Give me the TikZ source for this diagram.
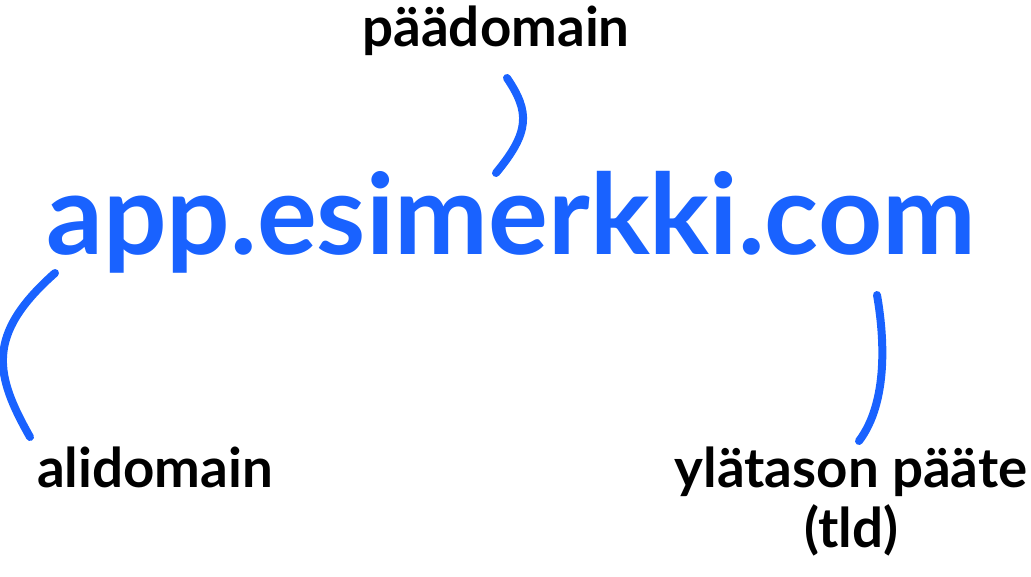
\documentclass[tikz,border=0pt]{standalone}
\usepackage{fontspec}
\setmainfont{Lato}
\usepackage{tikz}
\definecolor{linkblue}{RGB}{25,98,255}

\begin{document}
\begin{tikzpicture}[x=0.75pt,y=0.75pt,yscale=-1,xscale=1,
    bracket/.style={draw=linkblue,line width=6pt,line cap=round},
    lbl/.style={inner sep=0pt,text=black,font=\fontsize{41}{45}\selectfont\bfseries,align=center},
    urltext/.style={inner sep=0pt,text=linkblue,font=\fontsize{84}{90}\selectfont\bfseries}]
        \path[use as bounding box] (0,0) rectangle (1031,576);

        % Text Node
        \node (url) [urltext,anchor=base] at (511,254) {app.esimerkki.com};
        % Text Node
        \node (main) [lbl,anchor=base] at (496,46) {päädomain};
        % Text Node
        \node (sub) [lbl,anchor=base] at (155,487) {alidomain};
        % Text Node
        \node (tld) [lbl,anchor=base] at (851,547) {ylätason pääte\\(tld)};

        %Curve ends
        \coordinate (main-a) at (507,78);
        \coordinate (main-b) at (496,173);
        \coordinate (sub-a) at (55,273);
        \coordinate (sub-b) at (30,437);
        \coordinate (tld-a) at (877,295);
        \coordinate (tld-b) at (859,441);

        %Curve Lines
        \draw [bracket] (main-a) .. controls (530,112) and (530,132) .. (main-b) ;
        %Curve Lines
        \draw [bracket] (sub-a) .. controls (-15,335) and (-5,375) .. (sub-b) ;
        %Curve Lines
        \draw [bracket] (tld-a) .. controls (884,335) and (889,401) .. (tld-b) ;

\end{tikzpicture}
\end{document}
